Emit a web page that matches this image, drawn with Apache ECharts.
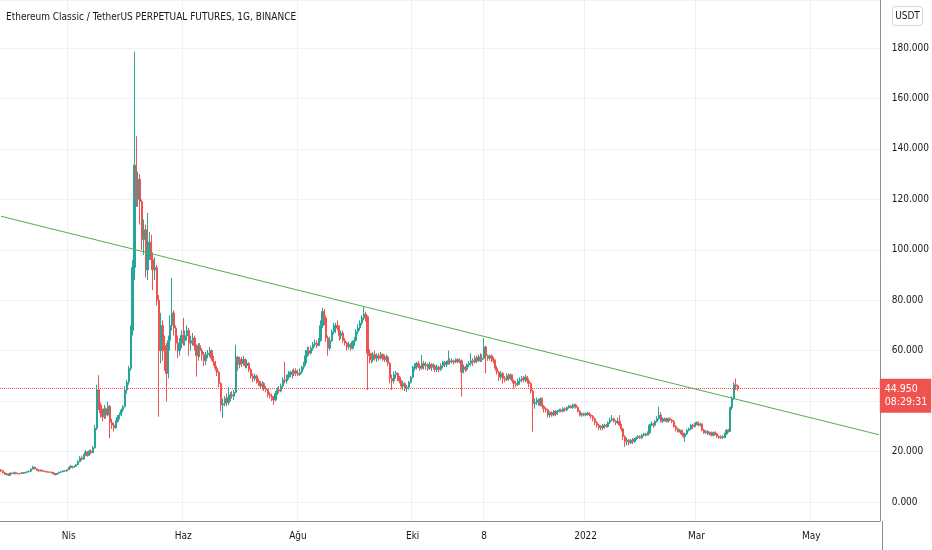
<!DOCTYPE html>
<html lang="tr">
<head>
<meta charset="utf-8">
<title>ETCUSDT</title>
<script src="https://cdn.jsdelivr.net/npm/echarts@6/dist/echarts.min.js"></script>
<style>
  html, body { margin: 0; padding: 0; width: 100%; height: 100%; background: #fff; overflow: hidden; }
  #main { width: 932px; height: 550px; }
</style>
</head>
<body>
<div id="main"></div>
<script>
// günlük mumlar, 24.02.2021'den başlıyor
var startDay = Date.UTC(2021, 1, 24);
var dayCount = 468; // grafik sağ kenara kadar (gelecek günler boş)

var firstOpen = 12.8;
var closes = [
  12.4, 11.6, 11.0, 11.1, 10.6, 11.5, 11.2, 11.8, 11.3, 11.2,
  11.4, 11.6, 11.5, 11.8, 12.0, 12.2, 13.1, 13.9, 13.2, 12.7,
  12.4, 12.6, 12.3, 12.2, 12.0, 11.8, 11.9, 11.6, 11.2, 10.9,
  11.4, 11.8, 12.0, 12.4, 12.3, 12.8, 13.6, 14.2, 13.8, 14.1,
  14.8, 16.0, 17.5, 17.0, 18.5, 19.8, 18.6, 20.2, 19.6, 21.5,
  29.3, 44.5, 38.5, 35.5, 33.8, 37.0, 34.5, 38.0, 31.5, 30.5,
  29.5, 32.0, 33.5, 34.5, 36.5, 37.8, 44.4, 47.5, 53.0, 68.0,
  93.0, 133.5, 120, 128, 119, 104, 108, 92, 100, 103,
  96, 92, 93, 80, 60, 70, 62, 60, 51, 64,
  70, 75, 69, 63, 60, 63, 66, 64, 66, 68,
  63, 64, 65, 62, 58, 62, 60, 58.5, 56, 58.5,
  59, 60, 57, 55.5, 53, 51.5, 47, 38.5, 39, 41,
  39.5, 41.5, 42.5, 42, 43.5, 57.5, 54.5, 56.5, 55, 56.5,
  54, 55, 52.5, 50, 49, 50, 48, 47.5, 46, 47,
  45, 44.5, 42.5, 42, 41, 40.5, 43, 44.5, 44, 46,
  48.5, 48, 49.5, 50.5, 51.5, 51, 52, 51, 50.5, 51.5,
  53.5, 55, 58, 60, 59, 61, 62.5, 63, 62, 64,
  70, 75.5, 73, 65, 61, 64, 67.5, 69, 70, 69,
  66, 67, 64, 63, 61.5, 62.5, 61, 63.5, 64, 67.5,
  69, 71, 73, 74.5, 73.5, 59, 58, 56.5, 58.5, 57,
  58, 57, 58.5, 57.5, 56.5, 57.5, 55, 49, 48, 50.5,
  51, 49.5, 48, 46, 47, 45, 45.5, 47.5, 49.5, 53,
  53.5, 55, 54, 53, 55, 54, 54.5, 53, 54.5, 53.5,
  54, 52.5, 53.5, 52.5, 54, 55.5, 54.5, 55.5, 56, 55.5,
  56, 55.5, 56.5, 55.5, 56, 51.5, 53.5, 52.5, 54.5, 55,
  56, 55.5, 57, 56, 57.5, 56.5, 57, 61.5, 58, 57,
  58, 56.5, 56, 53, 51.5, 49.5, 51, 49, 48.5, 50,
  49, 50.5, 48, 47, 46.5, 48, 48.5, 49, 48.5, 49.5,
  48, 47, 44, 39, 39.5, 40.5, 38.5, 41, 38, 37,
  36.5, 34.5, 35.5, 34.5, 36, 35, 36, 36.5, 36, 37,
  36.5, 37.5, 38, 37.5, 38, 38.5, 37.5, 36, 34.5, 35,
  34.5, 35, 35.3, 34.5, 34, 33, 31.5, 30.5, 29.5, 30,
  29.5, 30.5, 30, 31.5, 32.5, 33, 32, 31.5, 32, 30.5,
  29, 26, 24, 24.5, 23.5, 24.5, 24, 25, 25.5, 26,
  25.5, 26.5, 27, 26.5, 27.5, 30.5, 31, 30.5, 32, 33,
  34.5, 32, 32.5, 33, 32, 33, 32.5, 32, 30, 29,
  28, 28.5, 27, 26, 27, 28.5, 29, 30.5, 30, 31,
  31.5, 30.5, 31, 28.5, 27.5, 28, 27, 27.5, 26.5, 27.5,
  27, 26, 25.5, 26, 25.5, 27, 28.5, 28, 37.5, 41,
  46.5, 46, 44.95
];
var highs = [
  12.9, 12.6, 11.9, 11.5, 11.3, 11.7, 11.7, 12.0, 11.9, 11.5,
  11.6, 11.9, 11.8, 12.0, 12.3, 12.5, 13.4, 14.4, 14.0, 13.4,
  12.9, 12.9, 12.8, 12.5, 12.4, 12.2, 12.1, 12.0, 11.7, 11.4,
  11.6, 12.0, 12.3, 12.6, 12.7, 13.0, 13.9, 14.6, 14.4, 14.5,
  15.2, 16.6, 18.2, 18.4, 19.0, 20.6, 20.2, 20.8, 20.8, 22.2,
  30.5, 46.5, 50.3, 39.5, 37.0, 38.5, 37.5, 39.8, 38.5, 33.0,
  31.5, 32.5, 34.5, 35.5, 37.0, 38.5, 46.0, 48.5, 54.0, 70.0,
  96, 178.5, 145, 131, 130, 120, 112, 110, 114.6, 107,
  106, 99, 97, 94, 82, 75, 72, 66, 63, 66,
  74, 88.8, 76, 70, 66, 65, 68, 73, 68, 70,
  69, 66, 67, 66, 62.5, 63, 63, 61, 59.5, 59.6,
  60.3, 61.5, 60.5, 58, 56, 54, 52, 47.5, 41, 42,
  43, 45.6, 43.5, 44, 44.5, 62.3, 58, 57.6, 57.5, 58,
  57, 56.5, 55.5, 53, 51, 51, 50.5, 49, 48, 48,
  47.5, 46, 45, 43.5, 43, 42, 44, 45.5, 46, 47,
  49.5, 55.6, 50.5, 52, 52, 52.5, 53, 53, 52.5, 53,
  54, 55.5, 60.3, 61.6, 61.5, 62, 63.5, 64.5, 64, 65,
  72, 77, 76.5, 74, 66, 65.5, 68.5, 71, 71, 72,
  70, 68, 68, 65, 63.5, 63.5, 63, 64, 65.5, 68.5,
  70.5, 72, 74, 77.4, 75.5, 74, 60.5, 59, 59.5, 60,
  59, 59, 59.5, 59, 58.5, 58.5, 58, 55.5, 50.5, 51.7,
  52, 51.5, 50, 48.5, 48, 47.5, 46.5, 48, 50, 54,
  55, 55.5, 56, 55, 58.3, 56, 55.5, 55, 55.5, 55,
  55, 54.5, 54.5, 54, 55, 56, 56, 56, 60, 57,
  57, 56.5, 57, 57, 57, 56.5, 54.5, 54, 55, 56,
  59, 57, 58, 58, 58.5, 59, 58.5, 65, 62, 58.5,
  58.5, 58.5, 57.5, 56.5, 54, 52, 52, 51.5, 50, 51,
  51, 51, 50.5, 48.5, 48, 49, 49.5, 50, 50, 50.5,
  50, 49, 47.5, 44.5, 41, 41.5, 41, 41.5, 41.5, 38.5,
  37.5, 37, 36, 36, 36.5, 36.5, 36.5, 37, 37, 37.5,
  37.5, 38, 38.5, 38.5, 39, 39, 39, 38, 36.5, 35.5,
  35.5, 35.5, 35.8, 35.5, 35, 34.5, 33.5, 32, 31, 30.5,
  31, 31, 31, 32, 33.5, 34.5, 33.5, 32.5, 33.5, 34.5,
  31, 29.5, 26.5, 25.5, 25, 25, 25.5, 25.5, 26, 26.5,
  26.5, 27, 27.5, 27.5, 28, 31, 32, 31.5, 32.5, 34,
  37.8, 35.7, 33.5, 33.5, 33.5, 33.5, 33.5, 33, 32.5, 30.5,
  29.5, 29, 28.5, 27.5, 27.5, 29, 29.5, 31, 31, 31.5,
  32, 32, 31.5, 31, 29, 28.5, 28.5, 28, 28, 28,
  28, 27.5, 26.5, 26.5, 26.5, 27.5, 29, 29, 38, 42,
  47.5, 49, 46.5
];
var lows = [
  11.9, 11.3, 10.7, 10.7, 10.3, 10.5, 11.0, 11.1, 11.0, 10.9,
  11.0, 11.2, 11.2, 11.4, 11.6, 11.8, 12.0, 12.9, 12.8, 12.4,
  12.1, 12.2, 12.0, 11.9, 11.7, 11.5, 11.5, 11.3, 10.9, 10.5,
  10.8, 11.3, 11.6, 11.9, 12.0, 12.1, 12.7, 13.4, 13.3, 13.6,
  13.9, 14.6, 15.8, 16.4, 16.8, 18.2, 18.0, 18.3, 19.0, 19.4,
  21.2, 28.5, 36.5, 33.5, 32.0, 33.0, 33.0, 34.0, 25.3, 29.0,
  28.0, 29.0, 31.5, 32.8, 34.0, 35.5, 37.5, 43.0, 46.5, 52.0,
  66, 88, 117, 117, 110, 100, 98, 89, 88, 96,
  92, 84, 88, 78, 33.8, 55, 56, 52, 39.8, 49,
  60, 68, 66, 60, 57, 58, 61, 62, 62, 64,
  58, 60, 62, 60, 49.7, 56, 57.5, 56, 54, 54.3,
  57, 57.5, 56, 54, 52, 50, 45.5, 36, 33.3, 38,
  38, 38.5, 40, 41, 40.5, 43, 52, 53, 53.5, 54,
  53, 53, 51.5, 49, 47.5, 48, 47, 46, 45, 44.5,
  44, 43.5, 41.5, 41, 40, 38.5, 40, 42.5, 43, 43.5,
  45, 47, 47, 48.5, 49.5, 49, 50, 50, 50, 50,
  51, 52.5, 54, 57.5, 58, 58.5, 60, 61.5, 61, 62,
  63.5, 69, 70, 63.5, 58, 60, 63.5, 66.5, 67, 68,
  64, 64.5, 63, 62, 60, 60.5, 60, 60.5, 62, 63.5,
  66.5, 68, 70, 72, 71.5, 44.4, 55, 55, 55.5, 56,
  55.5, 56, 56.5, 56, 55.5, 55.5, 54, 47, 44.4, 47,
  49, 48, 47, 45, 44.5, 44, 43.7, 44.5, 47, 49,
  52, 52.5, 53, 52, 52.5, 52.5, 52.5, 52, 52.5, 52,
  52.5, 51.5, 51.5, 51.5, 52, 53, 53.5, 53.5, 54.5, 54.5,
  55, 54.5, 55, 55, 55, 41.8, 51, 51.5, 52, 53.5,
  54, 54, 55, 55, 55.5, 55.5, 55.5, 56.5, 51, 56,
  56, 55.5, 55, 52, 50.5, 48, 48.5, 47, 47.5, 48,
  48, 48.5, 47, 45, 45.5, 46, 46.5, 47.5, 47.5, 47.5,
  47, 45.5, 43, 27.9, 37, 38.5, 38, 38, 37, 35.5,
  35.5, 33.5, 33.5, 33.8, 34, 34, 34.5, 35.5, 35.5, 35.5,
  35.8, 36, 37, 37, 37, 37.5, 37, 35.5, 34, 33.8,
  34, 34, 34.3, 34, 33, 32, 30.5, 29.5, 28.5, 28.5,
  28.5, 29, 29.5, 29.5, 31, 32, 31.5, 30.5, 31, 30,
  28, 24.5, 21.9, 22.5, 22.5, 23, 23, 23.5, 24.5, 25,
  25, 25, 26, 26, 26.5, 27, 30, 29.5, 30, 31.5,
  32.5, 31.5, 31.3, 32, 31.5, 31.5, 32, 31.3, 29.5, 28,
  27.5, 27.5, 26.5, 25.5, 23.9, 26.5, 28, 28.5, 29, 29.5,
  30.5, 30, 30, 28, 27, 27, 26.5, 26.5, 26, 26,
  26.5, 25.5, 25, 25, 25, 25.5, 26.5, 27.5, 27.8, 36.5,
  40.5, 44.5, 44
];

// zaman ekseni etiketleri
var tickDates = ['2021-04-01', '2021-06-01', '2021-08-01', '2021-10-01', '2021-11-08', '2022-01-01', '2022-03-01', '2022-05-01'];
var tickNames = ['Nis', 'Haz', 'Ağu', 'Eki', '8', '2022', 'Mar', 'May'];

// trend çizgisi (sol ve sağ kenardaki değer)
var trendValues = [113.3, 26.7];

var lastPrice = 44.95;
var countdown = '08:29:31';

var dates = [];
for (var i = 0; i < dayCount; i++) {
  dates.push(new Date(startDay + i * 86400000).toISOString().slice(0, 10));
}

var candles = [];
for (var k = 0; k < closes.length; k++) {
  var o = k === 0 ? firstOpen : closes[k - 1];
  candles.push([o, closes[k], lows[k], highs[k]]);
}

var FONT = "'Liberation Sans Narrow', 'DejaVu Sans Condensed', sans-serif";
var TXT = '#131722';
var GRID = '#eef1f6';
var AXIS = '#8a8d96';

function isTick(idx, val) { return tickDates.indexOf(val) >= 0; }

var myChart = echarts.init(document.getElementById('main'));
var option = {
  animation: false,
  backgroundColor: '#fff',
  title: {
    text: 'Ethereum Classic / TetherUS PERPETUAL FUTURES, 1G, BINANCE',
    left: 6, top: 12, padding: 0,
    textStyle: { fontFamily: FONT, fontSize: 10, fontWeight: 'normal', color: TXT }
  },
  grid: { left: 0, right: 50, top: 0, bottom: 29 },
  xAxis: {
    type: 'category',
    data: dates,
    boundaryGap: true,
    axisLine: { show: true, onZero: false, lineStyle: { color: AXIS, width: 1 } },
    axisTick: { show: false },
    axisLabel: {
      interval: isTick,
      formatter: function (v) { return tickNames[tickDates.indexOf(v)]; },
      fontFamily: FONT, fontSize: 10, color: TXT, margin: 10
    },
    splitLine: { show: true, interval: isTick, lineStyle: { color: GRID, width: 1 } }
  },
  yAxis: {
    type: 'value',
    position: 'right',
    min: -7.5,
    max: 199,
    splitNumber: 10,
    minInterval: 20,
    maxInterval: 20,
    axisLine: { show: true, lineStyle: { color: AXIS, width: 1 } },
    axisTick: { show: false },
    axisLabel: {
      showMinLabel: false, showMaxLabel: false,
      formatter: function (v) { return v.toFixed(3); },
      fontFamily: FONT, fontSize: 10, color: TXT, margin: 12
    },
    splitLine: { show: true, lineStyle: { color: GRID, width: 1 } }
  },
  series: [
    {
      type: 'candlestick',
      data: candles,
      barWidth: '90%',
      itemStyle: {
        color: '#26a69a', color0: '#ef5350',
        borderColor: '#26a69a', borderColor0: '#ef5350', borderWidth: 1
      },
      markLine: {
        symbol: 'none',
        silent: true,
        lineStyle: { type: 'dotted', color: '#ef5350', width: 1 },
        label: {
          position: 'end',
          distance: 0,
          formatter: function (p) { return p.value.toFixed(3) + '\n' + countdown; },
          backgroundColor: '#ef5350',
          color: '#fff',
          fontFamily: FONT,
          fontSize: 10.5,
          lineHeight: 13,
          padding: [4, 4, 4, 5],
          offset: [0, 7]
        },
        data: [{ yAxis: lastPrice }]
      }
    },
    {
      type: 'line',
      data: [[dates[0], trendValues[0]], [dates[dayCount - 1], trendValues[1]]],
      symbol: 'none',
      silent: true,
      z: 5,
      lineStyle: { color: '#4caf50', width: 1 }
    }
  ],
  graphic: [
    { type: 'line', shape: { x1: 882.5, y1: 521, x2: 882.5, y2: 550 }, style: { stroke: AXIS, lineWidth: 1 } },
    { type: 'rect', shape: { x: 892.5, y: 6.5, width: 30, height: 19, r: 3 }, style: { fill: '#fff', stroke: '#d1d4dc', lineWidth: 1 } },
    { type: 'text', x: 907.5, y: 16, style: { text: 'USDT', fill: TXT, font: '10px ' + FONT, align: 'center', verticalAlign: 'middle' } }
  ]
};
myChart.setOption(option);
</script>
</body>
</html>
